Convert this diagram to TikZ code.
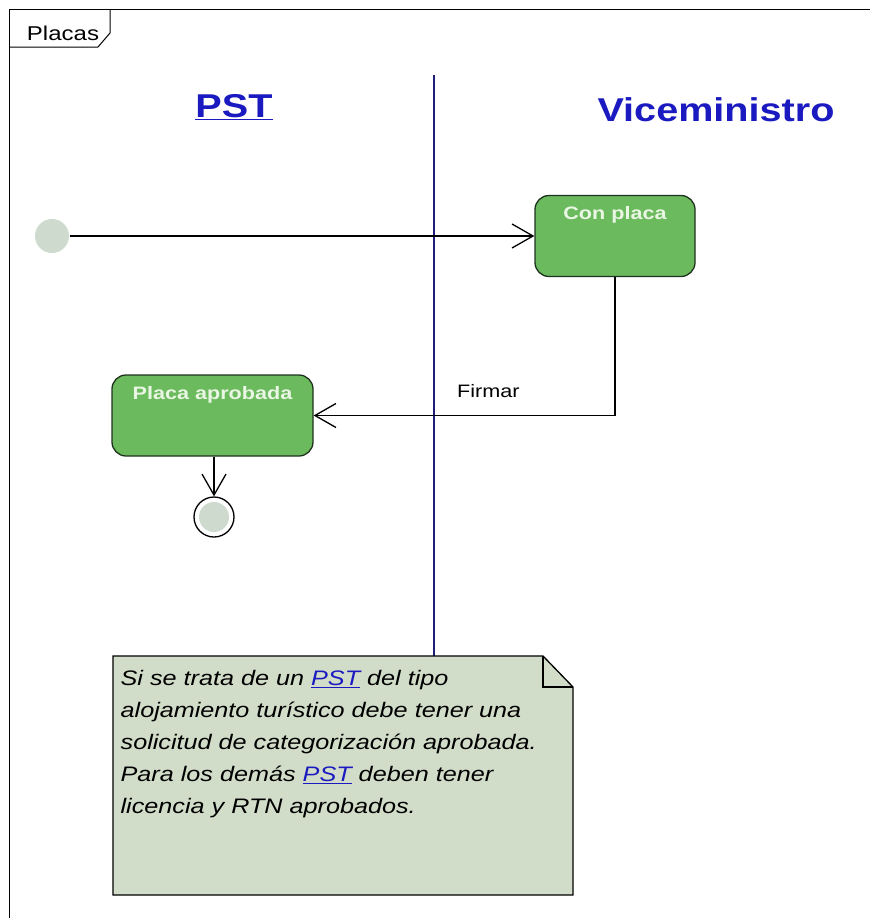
\documentclass[tikz,border=0pt]{standalone}
\usepackage{fontspec}
\setmainfont{Liberation Sans}[FakeStretch=1.2]
\usetikzlibrary{arrows.meta}
\definecolor{actgreen}{HTML}{6BBA5E}
\definecolor{actborder}{HTML}{1F331F}
\definecolor{acttext}{HTML}{EAF6E4}
\definecolor{nodegrey}{HTML}{CFDACF}
\definecolor{notefill}{HTML}{D2DDC9}
\definecolor{lanenavy}{HTML}{1E1E7A}
\definecolor{titleblue}{HTML}{1A1AC0}
\newcommand{\pstlink}{\textcolor{titleblue}{\underline{PST}}}
\tikzset{
  action/.style={
    rectangle, draw=actborder, fill=actgreen,
    rounded corners=14pt, inner sep=0pt,
    minimum width=160pt, text height=24pt, text depth=57pt,
    text=acttext, font=\fontsize{18}{22}\selectfont\bfseries,
  },
  initial/.style={
    circle, fill=nodegrey, minimum size=34pt, inner sep=0pt,
  },
  final/.style={
    circle, draw, fill=white, minimum size=40pt, inner sep=0pt,
    path picture={\fill[nodegrey] (path picture bounding box.center) circle (15pt);},
  },
  title/.style={
    anchor=base, text=titleblue, font=\fontsize{33}{38}\selectfont\bfseries,
  },
  line/.style={
    draw, -{Straight Barb[length=21pt,width=24pt]},
  }
}

\begin{document}
\begin{tikzpicture}[x=1pt,y=-1pt,font=\fontsize{18}{22}\selectfont,line width=1.3pt]
\useasboundingbox (0,0) rectangle (870,918);
\draw[line width=1pt] (870,9) -- (9,9) -- (9,918);
\draw[line width=1pt] (9,47) -- (98,47) -- (110,33) -- (110,9);
\node[anchor=base west, font=\fontsize{20}{24}\selectfont] (placas) at (23,40) {Placas};
\node[title] (pst) at (234,117) {\underline{PST}};
\node[title] (vice) at (716,121) {Viceministro};
\node[initial] (start) at (52,236) {};
\node[action] (conplaca) at (615,236) {Con placa};
\node[action, minimum width=201pt] (aprobada) at (212.5,415.5) {Placa aprobada};
\node[final] (final) at (214,517) {};
\coordinate (lanetop) at (434,75);
\coordinate (notenw) at (113,656);
\coordinate (notese) at (573,895);
\draw[lanenavy, line width=1.2pt] (lanetop) -- (lanetop |- notenw);
\path [line] (start) -- (conplaca);
\path [line] (conplaca.south) |- node[pos=0.71, above, yshift=14pt] (firmar) {Firmar} (aprobada.east);
\path [line] (aprobada.south -| final) -- (final);
\draw[fill=notefill, line width=1.3pt] (notenw) -- (543,656) -- (573,687) -- (notese) -- (notese -| notenw) -- cycle;
\draw[line width=1.3pt] (543,656) -- (543,687) -- (573,687);
\node[anchor=north west, inner sep=0pt, align=left,
  font=\fontsize{21}{32}\selectfont\itshape] (notetext) at (120,670)
  {Si se trata de un \pstlink{} del tipo\\
   alojamiento turístico debe tener una\\
   solicitud de categorización aprobada.\\
   Para los demás \pstlink{} deben tener\\
   licencia y RTN aprobados.};
\end{tikzpicture}
\end{document}
